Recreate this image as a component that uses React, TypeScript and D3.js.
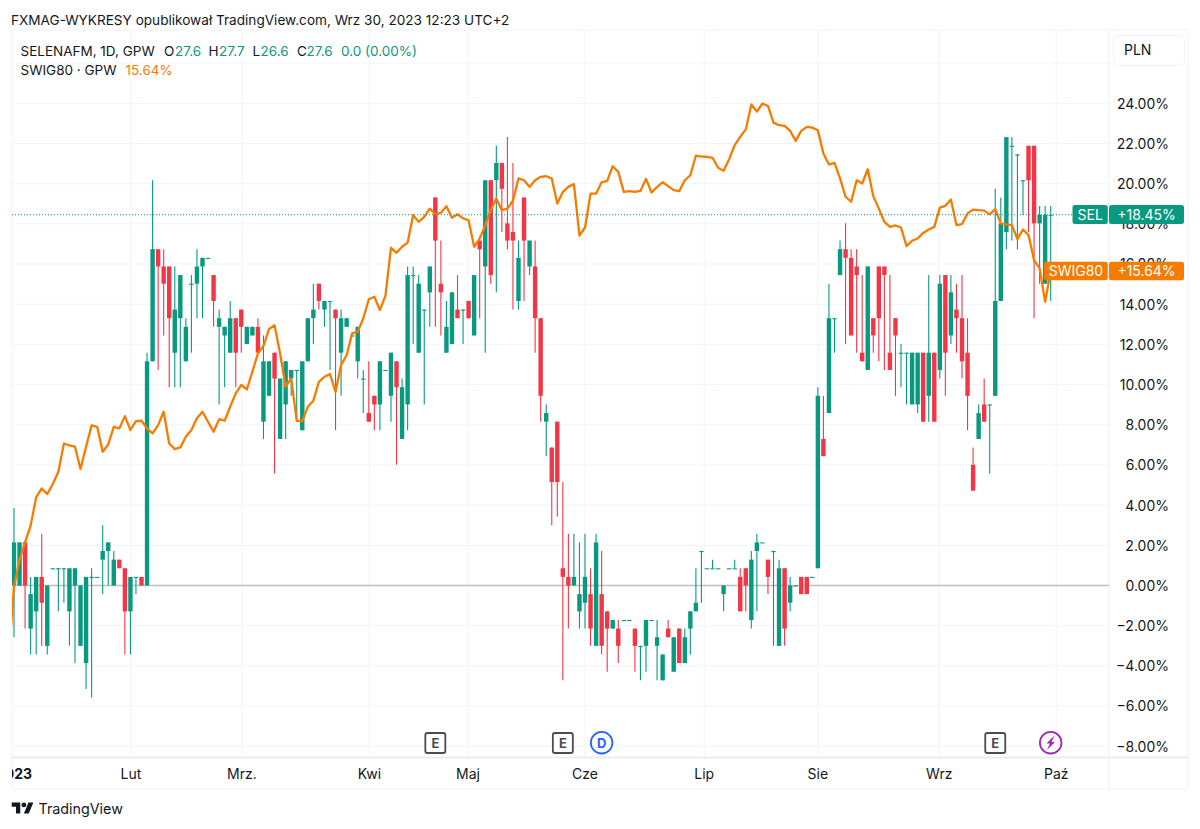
import React from "react";
import { scaleLinear, line, range } from "d3";

// SELENAFM daily prices (PLN), Jan - Sep 2023
const opens = [
  23.3,23.3,23.8,22.8,23.0,23.4,22.6,23.5,23.5,23.5,23.0,23.3,22.6,22.4,23.4,23.4,23.6,23.7,23.3,23.6,
  23.5,23.0,23.4,23.4,23.3,25.9,27.2,27.0,27.0,26.0,26.4,25.9,26.8,26.8,27.0,27.1,26.9,26.3,26.2,26.0,
  26.4,26.5,26.1,26.2,26.3,25.2,25.5,26.0,25.0,25.4,25.7,25.8,25.1,25.9,26.4,26.8,26.5,26.6,26.5,26.0,
  26.3,26.2,25.9,25.7,25.3,25.5,25.4,25.8,25.5,25.9,25.0,25.4,26.9,26.0,26.5,26.7,27.8,26.8,26.0,26.1,
  26.5,26.5,26.6,26.2,27.3,27.0,28.0,28.0,28.2,27.5,27.4,26.6,27.8,27.0,27.0,26.4,25.2,24.9,25.2,23.5,
  23.4,23.3,23.0,23.1,23.2,22.6,23.2,23.0,22.8,22.8,22.9,22.9,22.8,22.6,22.6,22.9,22.6,22.2,22.8,22.3,
  22.8,22.4,22.8,23.0,23.7,23.5,23.5,23.5,23.2,23.5,23.5,23.4,23.5,22.9,23.7,23.8,23.6,23.7,22.6,23.5,
  23.1,23.3,23.4,23.4,23.4,23.5,25.0,25.3,26.4,26.9,27.2,27.1,27.0,26.0,25.8,26.4,27.0,27.0,26.0,26.4,
  26.0,26.0,25.4,25.4,26.0,25.5,26.0,25.8,26.9,26.2,26.5,26.4,26.0,24.7,25.0,25.4,25.4,25.5,26.6,27.4,
  28.4,28.3,28.0,28.4,28.4,27.5,26.8,27.6,
];
const highs = [
  24.2,23.8,23.8,23.4,23.4,23.9,23.3,23.5,23.5,23.5,23.5,23.5,23.3,23.4,23.5,23.4,24.0,23.8,23.7,23.6,
  23.5,23.4,23.4,23.4,26.0,28.0,27.2,27.2,27.0,27.0,26.9,26.4,26.9,27.2,27.1,27.1,26.9,26.5,26.3,26.6,
  26.4,26.5,26.3,26.3,26.4,26.2,25.9,26.0,25.7,25.9,25.8,25.8,25.9,26.4,26.8,26.8,26.6,26.6,26.5,26.5,
  26.4,26.2,26.3,25.8,25.9,25.5,25.9,25.8,26.0,25.9,25.7,27.0,27.0,26.9,26.5,27.0,27.8,27.3,26.6,26.7,
  26.9,26.5,26.6,26.9,27.3,28.0,28.0,28.4,28.2,28.5,28.2,27.3,27.8,27.3,27.3,26.4,25.4,24.9,25.2,24.5,
  23.9,23.9,23.8,23.9,23.5,23.9,23.7,23.0,22.9,22.9,22.9,22.9,22.8,22.6,22.9,22.9,22.9,22.5,22.9,22.7,
  22.8,22.8,23.0,23.5,23.7,23.5,23.6,23.5,23.3,23.5,23.6,23.5,23.5,23.7,23.9,23.8,23.6,23.7,23.6,23.5,
  23.4,23.3,23.4,23.4,23.4,25.6,25.5,26.8,26.4,27.3,27.5,27.2,27.2,26.9,27.0,26.4,27.0,27.0,26.9,26.4,
  26.1,26.0,26.0,26.0,26.0,26.9,26.0,26.9,26.9,26.9,26.8,26.9,26.4,24.9,25.4,25.7,25.4,27.9,27.8,28.5,
  28.5,28.3,28.0,28.4,28.4,27.7,27.7,27.7,
];
const lows = [
  22.7,23.3,22.8,22.5,22.5,22.6,22.5,23.5,23.0,23.1,22.6,22.4,22.6,22.1,22.0,23.4,23.2,23.3,23.3,23.5,
  22.5,22.5,23.2,23.3,23.3,25.9,25.8,26.2,25.6,25.6,25.6,25.9,26.0,26.4,26.4,27.1,26.3,25.4,25.6,26.0,
  25.6,26.0,26.1,26.2,26.0,25.0,25.5,24.6,25.0,25.0,25.5,25.2,25.1,25.9,26.1,26.5,26.3,25.8,25.1,25.5,
  26.3,26.2,25.7,25.3,25.2,25.1,25.1,25.8,25.2,24.7,25.0,25.1,26.1,26.0,25.4,26.3,26.3,26.2,26.0,26.1,
  26.4,26.1,26.4,26.2,26.4,26.0,26.8,26.7,27.4,27.2,26.5,26.5,26.6,26.9,26.0,25.2,24.8,24.0,24.1,22.2,
  22.8,23.3,22.8,22.8,22.6,22.6,22.5,22.3,22.8,22.4,22.9,22.9,22.3,22.2,22.3,22.9,22.2,22.2,22.7,22.3,
  22.4,22.4,22.5,23.0,23.1,23.5,23.5,23.5,23.0,23.5,23.5,23.0,23.0,22.8,23.0,23.8,23.2,22.6,22.6,22.6,
  23.0,23.3,23.2,23.2,23.4,23.5,24.8,25.3,26.0,26.9,26.1,26.2,26.0,25.9,25.8,26.0,25.9,25.8,25.8,25.5,
  25.6,25.4,25.4,25.3,25.2,25.2,25.2,25.7,25.5,26.1,26.0,25.7,25.1,24.4,25.0,25.2,24.6,25.5,26.6,27.2,
  27.3,27.2,27.6,27.4,26.4,26.8,26.8,26.6,
];
const closes = [
  23.8,23.8,23.3,23.2,23.4,23.1,23.3,23.5,23.5,23.5,23.5,23.5,23.3,23.4,23.4,23.4,23.7,23.8,23.6,23.5,
  23.0,23.4,23.4,23.3,25.9,27.2,27.0,26.8,26.4,26.5,26.9,26.3,26.8,27.0,27.1,27.1,26.6,26.4,26.3,26.4,
  26.0,26.3,26.3,26.3,26.0,25.9,25.9,25.7,25.7,25.9,25.8,25.8,25.9,26.4,26.5,26.6,26.6,26.6,26.4,26.4,
  26.4,26.2,26.3,25.7,25.2,25.4,25.9,25.8,26.0,25.6,25.6,26.9,26.9,26.8,26.5,27.0,27.3,26.7,26.3,26.7,
  26.4,26.5,26.4,26.9,27.2,28.0,26.9,28.2,27.9,27.3,27.3,27.1,27.3,27.3,26.4,25.5,25.3,24.5,24.5,23.4,
  23.3,23.4,23.2,23.4,22.8,23.8,22.6,22.8,22.9,22.6,22.9,22.9,22.6,22.6,22.9,22.9,22.7,22.5,22.7,22.7,
  22.4,22.7,23.0,23.1,23.7,23.5,23.5,23.5,23.3,23.5,23.5,23.0,23.3,23.6,23.8,23.8,23.4,23.7,23.5,22.8,
  23.3,23.3,23.2,23.2,23.4,25.5,24.8,26.4,26.4,27.2,27.1,26.2,26.9,25.9,27.0,26.2,26.4,26.9,25.8,26.2,
  26.0,26.0,26.0,26.0,25.2,26.0,25.2,26.8,26.0,26.7,26.4,25.9,25.5,24.4,25.3,25.2,25.4,26.6,27.5,28.5,
  28.4,28.3,28.0,28.0,27.5,27.6,27.6,27.6,
];
const basePrice = 23.3;

// SWIG80 in percent, first value is one session before the left edge
const swig80 = [
  -3.80,-0.06,1.27,2.15,2.98,4.39,4.83,4.55,5.05,5.66,7.07,6.97,6.91,5.80,6.91,7.97,7.90,6.66,7.02,7.90,
  7.82,8.43,7.74,8.18,8.20,7.82,7.57,7.98,8.65,7.07,6.79,6.87,7.40,7.74,8.32,8.65,8.15,7.65,8.28,8.20,
  8.90,9.56,9.98,9.76,10.64,11.55,11.92,12.76,12.96,11.55,9.89,10.31,8.20,8.18,8.90,9.20,10.14,10.39,10.52,9.64,
  10.97,11.47,12.55,12.63,13.29,14.25,14.37,13.71,14.42,16.81,16.56,16.86,17.07,18.43,18.10,18.35,18.76,18.48,18.55,18.88,
  18.30,18.48,18.27,18.18,16.86,17.27,17.94,18.68,19.26,18.68,18.76,19.15,20.26,20.17,19.84,20.17,20.34,20.37,20.26,19.01,
  19.59,19.84,19.98,17.42,17.82,19.51,19.51,20.07,20.14,20.87,20.59,19.59,19.63,19.59,19.64,20.24,19.56,19.84,20.07,19.88,
  19.68,19.63,20.17,20.42,21.40,21.35,21.34,21.29,20.79,20.64,21.22,21.92,22.33,22.70,23.94,23.59,23.99,23.87,23.04,22.91,
  22.88,22.63,22.13,22.63,22.83,22.79,22.66,21.50,20.95,21.04,20.26,19.35,19.10,20.17,20.01,20.72,19.38,18.76,18.10,17.85,
  17.92,17.82,16.89,17.16,17.27,17.55,17.72,17.85,18.81,18.90,19.21,17.94,17.99,18.52,18.71,18.68,18.66,18.47,18.73,18.02,
  17.97,17.94,17.24,17.72,17.44,16.19,15.78,14.12,15.64,
];

const pctTicks = [24, 22, 20, 18, 16, 14, 12, 10, 8, 6, 4, 2, 0, -2, -4, -6, -8];
const monthLabels = ["Lut", "Mrz.", "Kwi", "Maj", "Cze", "Lip", "Sie", "Wrz", "Paź"];
const monthSessions = [21.1, 41.1, 64.1, 81.9, 103, 124.5, 145, 166.9, 188];
const earningsSessions = [76, 99, 177];
const dividendSession = 106;
const newsSession = 187;

const UP = "#089981";
const DOWN = "#F23645";
const ORANGE = "#F57C00";
const GRID = "#f0f3fa";
const TEXT = "#131722";
const FONT = "Inter, Roboto, sans-serif";

const paneLeft = 12;
const paneRight = 1109;
const paneTop = 30;
const paneBottom = 757.5;
const frameRight = 1188;
const frameBottom = 789;

const x = scaleLinear().domain([0, 187]).range([14, 1050.7]);
const yPct = scaleLinear().domain([0, 22]).range([585.5, 143.5]);
const yPrice = (p: number) => yPct((p / basePrice - 1) * 100);
const fmtPct = (v: number) => (v < 0 ? "\u2212" : "") + Math.abs(v).toFixed(2) + "%";

const swigLine = line<number>()
  .x((_, i) => x(i - 1))
  .y((d) => yPct(d));

function Tag({ x0, x1, y0, y1, fill, label }: any) {
  return (
    <g>
      <rect x={x0} y={y0} width={x1 - x0} height={y1 - y0} rx={2.5} fill={fill} />
      <text x={(x0 + x1) / 2} y={(y0 + y1) / 2 + 5} textAnchor="middle" fill="#fff" fontSize={14}>
        {label}
      </text>
    </g>
  );
}

function EMark({ cx }: { cx: number }) {
  return (
    <g>
      <rect x={cx - 10} y={733} width={20} height={20} rx={2} fill="#fff" stroke="#4a4c52" strokeWidth={1.8} />
      <text x={cx} y={747.6} textAnchor="middle" fontSize={13} fontWeight={700} fill="#4a4c52">E</text>
    </g>
  );
}

export default function App() {
  const bars = range(opens.length);
  const gridPct = [26, 24, 22, 20, 18, 16, 14, 12, 10, 8, 6, 4, 2, -2, -4, -6, -8];
  const dx = x(dividendSession);
  const nx = x(newsSession);
  return (
    <svg
      width={1200}
      height={829}
      style={{ position: "absolute", left: 0, top: 0, background: "#fff" }}
      fontFamily={FONT}
    >
      <defs>
        <clipPath id="pane">
          <rect x={paneLeft} y={paneTop} width={paneRight - paneLeft} height={paneBottom - paneTop} />
        </clipPath>
        <clipPath id="timeClip">
          <rect x={paneLeft} y={paneBottom} width={200} height={32} />
        </clipPath>
      </defs>

      <text x={11} y={24.5} fontSize={13.6} fill={TEXT}>
        FXMAG-WYKRESY opublikował TradingView.com, Wrz 30, 2023 12:23 UTC+2
      </text>

      {/* frame */}
      <rect x={paneLeft} y={paneTop} width={frameRight - paneLeft} height={frameBottom - paneTop} fill="none" stroke={GRID} />
      <line x1={paneLeft} x2={frameRight} y1={paneBottom} y2={paneBottom} stroke="#e6e8ef" strokeWidth={1.5} />
      <line x1={paneRight} x2={paneRight} y1={paneTop} y2={frameBottom} stroke={GRID} strokeWidth={1.5} />

      {/* grid */}
      {gridPct.map((v) => (
        <line key={v} x1={paneLeft} x2={paneRight} y1={yPct(v)} y2={yPct(v)} stroke={GRID} />
      ))}
      {monthSessions.map((s) => (
        <line key={s} x1={x(s)} x2={x(s)} y1={paneTop} y2={paneBottom} stroke={GRID} />
      ))}
      <line x1={paneLeft} x2={paneRight} y1={yPct(0)} y2={yPct(0)} stroke="#bdbec2" strokeWidth={1.7} />

      <g clipPath="url(#pane)">
        {bars.map((i) => {
          const up = closes[i] >= opens[i];
          const c = up ? UP : DOWN;
          const top = yPrice(Math.max(opens[i], closes[i]));
          const bot = yPrice(Math.min(opens[i], closes[i]));
          return (
            <g key={i}>
              <line x1={x(i)} x2={x(i)} y1={yPrice(highs[i])} y2={yPrice(lows[i])} stroke={c} strokeWidth={1.1} />
              <rect x={x(i) - 2.2} y={top} width={4.4} height={Math.max(bot - top, 1.1)} fill={c} />
            </g>
          );
        })}
        <path d={swigLine(swig80) || ""} fill="none" stroke={ORANGE} strokeWidth={2.3} strokeLinejoin="round" />
      </g>

      {/* last price line */}
      <line
        x1={paneLeft}
        x2={1072}
        y1={yPrice(closes[closes.length - 1])}
        y2={yPrice(closes[closes.length - 1])}
        stroke={UP}
        strokeWidth={1}
        strokeDasharray="1 2"
      />

      {/* price axis */}
      {pctTicks.map((v) => (
        <text key={v} x={1169} y={yPct(v) + 5.4} textAnchor="end" fontSize={14} fill={TEXT}>
          {fmtPct(v)}
        </text>
      ))}

      {/* time axis */}
      <g clipPath="url(#timeClip)">
        <text x={14} y={779} textAnchor="middle" fontSize={14} fontWeight={700} fill={TEXT}>2023</text>
      </g>
      {monthLabels.map((m, i) => (
        <text key={m} x={x(monthSessions[i])} y={779} textAnchor="middle" fontSize={14} fill={TEXT}>
          {m}
        </text>
      ))}

      {/* event markers */}
      {earningsSessions.map((s) => (
        <EMark key={s} cx={x(s)} />
      ))}
      <circle cx={dx} cy={742.7} r={10.8} fill="#fff" stroke="#2962FF" strokeWidth={1.8} />
      <text x={dx} y={747.6} textAnchor="middle" fontSize={13} fontWeight={700} fill="#2962FF">D</text>
      <circle cx={nx} cy={742.7} r={10.8} fill="#fff" stroke="#9C27B0" strokeWidth={1.8} />
      <path
        d="M3.8 -7.2 L-4.2 0.8 L-0.7 0.8 L-3.7 7.3 L4.3 -0.7 L0.8 -0.7 Z"
        transform={`translate(${nx},742.7)`}
        fill="#9C27B0"
      />

      {/* legend */}
      <text y={56} fontSize={13.5} fill={TEXT}>
        <tspan x={20.5}>SELENAFM, 1D, GPW</tspan>
        <tspan x={164}>O</tspan>
        <tspan x={175} fill={UP}>27.6</tspan>
        <tspan x={208.5}>H</tspan>
        <tspan x={219} fill={UP}>27.7</tspan>
        <tspan x={252.5}>L</tspan>
        <tspan x={260.5} fill={UP}>26.6</tspan>
        <tspan x={297}>C</tspan>
        <tspan x={306.5} fill={UP}>27.6</tspan>
        <tspan x={341} fill={UP}>0.0 (0.00%)</tspan>
      </text>
      <text y={75} fontSize={13.5} fill={TEXT}>
        <tspan x={20.5}>SWIG80 · GPW</tspan>
        <tspan x={125.5} fill={ORANGE}>15.64%</tspan>
      </text>

      {/* currency button */}
      <rect x={1113.5} y={35.5} width={71} height={30} rx={5} fill="#fff" stroke={GRID} />
      <text x={1124} y={55.2} fontSize={14} fill={TEXT}>PLN</text>

      {/* last value tags */}
      <Tag x0={1072.5} x1={1107.8} y0={205} y1={224} fill={UP} label="SEL" />
      <Tag x0={1109} x1={1184} y0={205} y1={224} fill={UP} label="+18.45%" />
      <Tag x0={1044} x1={1107.8} y0={261.7} y1={280.3} fill={ORANGE} label="SWIG80" />
      <Tag x0={1109} x1={1184} y0={261.7} y1={280.3} fill={ORANGE} label="+15.64%" />

      {/* logo */}
      <g transform="translate(11.7,800) scale(0.61)" fill={TEXT}>
        <path d="M14 22H7V11H0V4h14v18zM28 22h-8l7.5-18h8L28 22z" />
        <circle cx={20} cy={8} r={4} />
      </g>
      <text x={38.5} y={814} fontSize={14.3} fill={TEXT}>TradingView</text>
    </svg>
  );
}
